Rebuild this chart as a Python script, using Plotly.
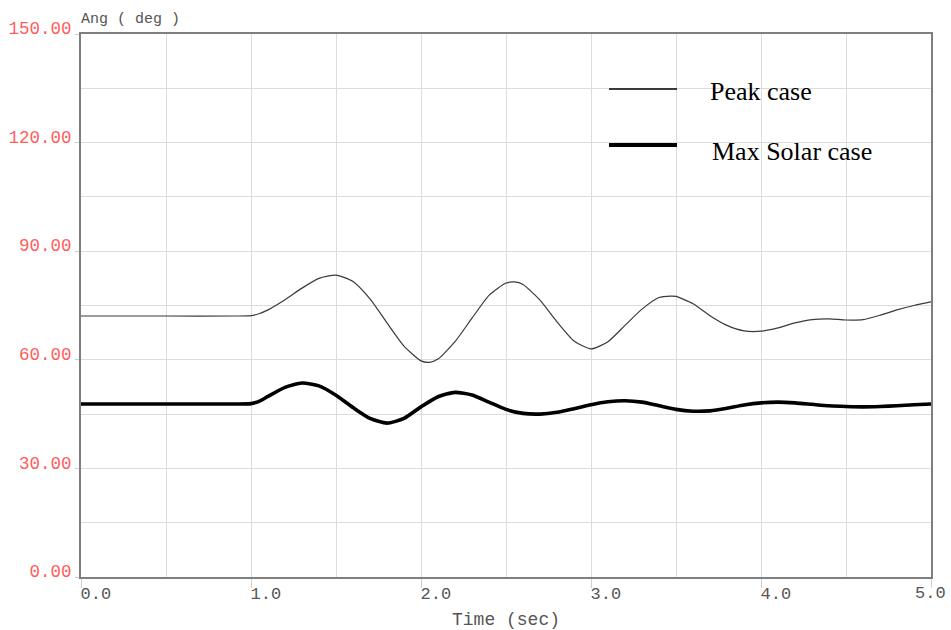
import plotly.graph_objects as go

# Time samples (s)
t_peak = [0.0, 0.5, 0.9, 1.0, 1.05, 1.1, 1.2, 1.3, 1.4, 1.5, 1.6, 1.7, 1.8, 1.9, 2.0, 2.05, 2.1,
          2.2, 2.3, 2.4, 2.5, 2.55, 2.6, 2.7, 2.8, 2.9, 3.0, 3.1, 3.2, 3.3, 3.4, 3.47,
          3.5, 3.6, 3.7, 3.8, 3.9, 4.0, 4.1, 4.2, 4.3, 4.4, 4.5, 4.6, 4.7, 4.8, 4.9, 5.0]
ang_peak = [72.1, 72.1, 72.1, 72.2, 72.8, 73.8, 76.6, 79.8, 82.5, 83.4, 81.6, 76.8, 70.2, 63.8, 59.7, 59.3, 60.2,
            65.0, 71.5, 77.8, 81.2, 81.5, 80.8, 76.5, 70.5, 65.2, 63.0, 65.0, 69.5, 74.0, 77.2, 77.6,
            77.5, 75.5, 72.2, 69.5, 68.0, 67.9, 68.8, 70.2, 71.1, 71.3, 71.0, 71.1, 72.3, 73.8, 75.0, 76.0]

t_solar = [0.0, 0.5, 0.9, 1.0, 1.05, 1.1, 1.2, 1.3, 1.4, 1.5, 1.6, 1.7, 1.8, 1.9, 2.0, 2.1, 2.2,
           2.3, 2.4, 2.5, 2.6, 2.7, 2.8, 2.9, 3.0, 3.1, 3.2, 3.3, 3.4, 3.5, 3.6, 3.7,
           3.8, 3.9, 4.0, 4.1, 4.2, 4.3, 4.4, 4.5, 4.6, 4.7, 4.8, 4.9, 5.0]
ang_solar = [47.8, 47.8, 47.8, 47.9, 48.6, 49.9, 52.4, 53.6, 52.8, 50.2, 46.8, 43.8, 42.5, 43.8, 47.0, 49.8, 51.0,
             50.3, 48.3, 46.3, 45.2, 45.0, 45.5, 46.5, 47.6, 48.4, 48.7, 48.3, 47.3, 46.3, 45.8, 45.9,
             46.6, 47.5, 48.1, 48.3, 48.1, 47.7, 47.3, 47.1, 47.0, 47.1, 47.3, 47.6, 47.8]

x_ticks = [0, 1, 2, 3, 4, 5]
x_labels = ["0.0", "1.0", "2.0", "3.0", "4.0", ""]
x_last_label = "5.0"
y_ticks = [0, 30, 60, 90, 120, 150]
y_labels = ["0.00", "30.00", "60.00", "90.00", "120.00", "150.00"]
series_names = ["Peak case", "Max Solar case"]

mono = "Liberation Mono"
serif = "Liberation Serif"

fig = go.Figure()
fig.add_trace(go.Scatter(x=t_peak, y=ang_peak, mode="lines", name=series_names[0],
                         line=dict(color="#3a3a3a", width=1.2, shape="spline", smoothing=0.6),
                         showlegend=False))
fig.add_trace(go.Scatter(x=t_solar, y=ang_solar, mode="lines", name=series_names[1],
                         line=dict(color="#000000", width=3.6, shape="spline", smoothing=0.6),
                         showlegend=False))

axis_common = dict(showline=True, linecolor="#7f7f7f", linewidth=2, mirror=True,
                   gridcolor="#dcdcdc", gridwidth=1, zeroline=False, automargin=False,
                   ticks="outside", tickcolor="#cfcfcf", tickwidth=1)

fig.update_xaxes(range=[0, 5], tickvals=x_ticks, ticktext=x_labels, ticklen=9,
                 ticklabelposition="outside right", ticklabeloverflow="allow", ticklabelshift=-2,
                 tickfont=dict(family=mono, size=17, color="#555555"),
                 minor=dict(dtick=0.5, showgrid=True, gridcolor="#dcdcdc", ticks=""),
                 **axis_common)
fig.update_yaxes(range=[0, 150], tickvals=y_ticks, ticktext=y_labels, ticklen=4,
                 ticklabelposition="outside", ticklabelshift=-6, ticklabelstandoff=0,
                 ticklabeloverflow="allow",
                 tickfont=dict(family=mono, size=17.5, color="#ff5c5c"),
                 minor=dict(dtick=15, showgrid=True, gridcolor="#dcdcdc", ticks=""),
                 **axis_common)

# last x tick label, pulled inside the window as in the original
fig.add_annotation(text=x_last_label, xref="x", yref="paper", x=x_ticks[-1], y=0,
                   xanchor="right", yanchor="top", xshift=17, yshift=-5, showarrow=False,
                   font=dict(family=mono, size=17, color="#555555"))

# Legend drawn manually
fig.add_shape(type="line", xref="paper", yref="paper", x0=0.6212, x1=0.7012, y0=0.8987, y1=0.8987,
              line=dict(color="black", width=1.5))
fig.add_shape(type="line", xref="paper", yref="paper", x0=0.6212, x1=0.7012, y0=0.7956, y1=0.7956,
              line=dict(color="black", width=4))
fig.add_annotation(text=series_names[0], xref="paper", yref="paper", x=0.7375, y=0.895,
                   xanchor="left", yanchor="middle", showarrow=False,
                   font=dict(family=serif, size=26, color="black"))
fig.add_annotation(text=series_names[1], xref="paper", yref="paper", x=0.7395, y=0.7827,
                   xanchor="left", yanchor="middle", showarrow=False,
                   font=dict(family=serif, size=26, color="black"))

# Axis titles
fig.add_annotation(text="Ang ( deg )", xref="paper", yref="paper", x=0, y=1, yshift=4, xshift=-2,
                   xanchor="left", yanchor="bottom", showarrow=False,
                   font=dict(family=mono, size=15, color="#555555"))
fig.add_annotation(text="Time (sec)", xref="paper", yref="paper", x=0.5, y=0, yshift=-43,
                   xanchor="center", yanchor="middle", showarrow=False,
                   font=dict(family=mono, size=18, color="#555555"))

fig.update_layout(width=951, height=630, margin=dict(l=81, r=20, t=34, b=53),
                  paper_bgcolor="white", plot_bgcolor="white", showlegend=False)

fig.write_html("out.html")
